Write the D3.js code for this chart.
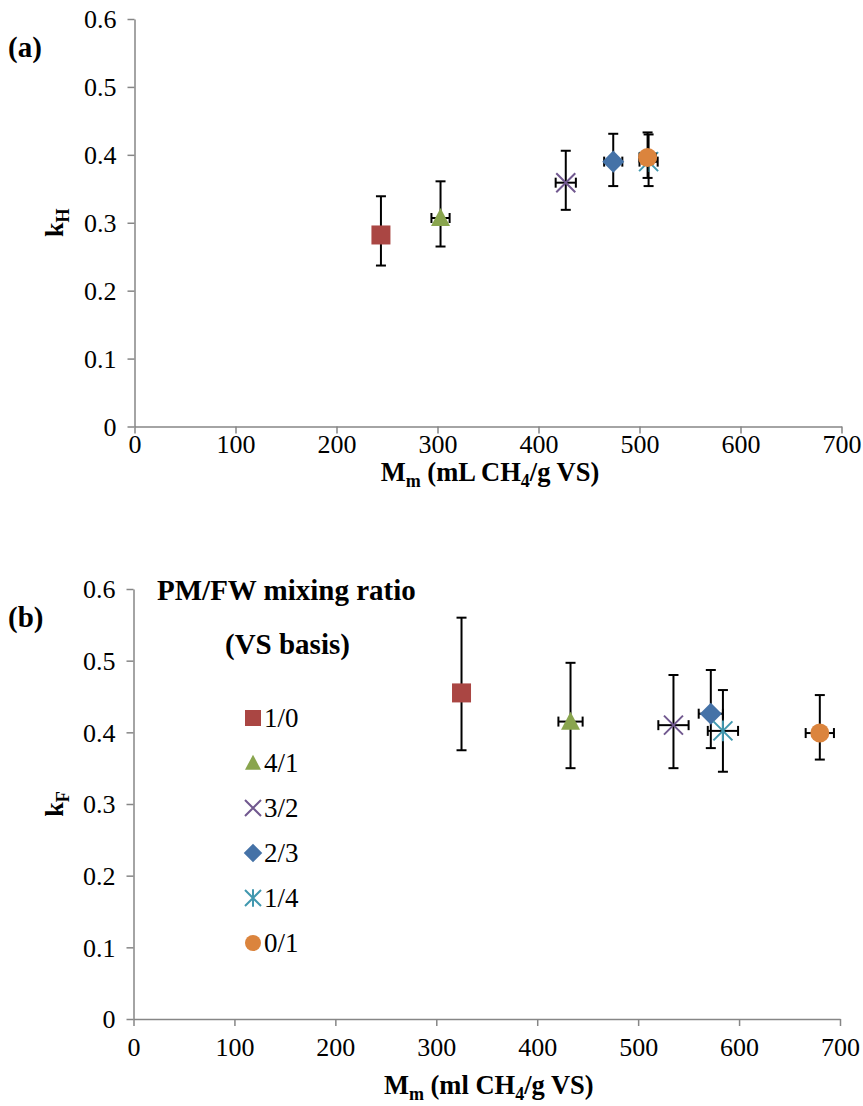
<!DOCTYPE html>
<html>
<head>
<meta charset="utf-8">
<script src="https://cdn.jsdelivr.net/npm/d3@7"></script>
<style>
  body { margin: 0; background: #fff; }
  svg text { font-family: "Liberation Serif", "Times New Roman", serif; fill: #000; }
</style>
</head>
<body>
<script>
// mixing ratios (series, in drawing order)
var ratios = ["1/0", "4/1", "3/2", "2/3", "1/4", "0/1"];
var symbols = ["square", "triangle", "cross", "diamond", "star", "circle"];
var colors = ["#AA4643", "#89A54E", "#71588F", "#4572A7", "#4198AF", "#DB843D"];

// panel (a): Mm vs kH
var mmA = [244, 303, 427, 474, 509, 508];
var mmErrA = [2, 9, 10, 9, 9, 8];
var kH = [0.282, 0.307, 0.359, 0.390, 0.390, 0.396];
var kHLow = [0.237, 0.265, 0.319, 0.354, 0.354, 0.366];
var kHHigh = [0.339, 0.361, 0.406, 0.431, 0.430, 0.433];

// panel (b): Mm vs kF
var mmB = [325, 433, 535, 572, 584, 680];
var mmErrB = [2, 12, 15, 12, 15, 14];
var kF = [0.455, 0.415, 0.410, 0.426, 0.402, 0.399];
var kFLow = [0.375, 0.350, 0.350, 0.378, 0.345, 0.362];
var kFHigh = [0.560, 0.497, 0.480, 0.487, 0.459, 0.452];

var xTicks = [0, 100, 200, 300, 400, 500, 600, 700];
var yTicks = [0, 0.1, 0.2, 0.3, 0.4, 0.5, 0.6];

var width = 863, height = 1106;
var axisColor = "#868686";

var svg = d3.select("body").append("svg")
    .attr("width", width)
    .attr("height", height);

svg.append("rect").attr("width", width).attr("height", height).attr("fill", "#fff");

//draw one marker centred on 0,0
function marker(g, sym, color, s){
    if (sym == "square"){
        g.append("rect").attr("x", -s/2).attr("y", -s/2).attr("width", s).attr("height", s).attr("fill", color);
    } else if (sym == "triangle"){
        var h = s * 0.95;
        g.append("path").attr("d", "M0," + (-h*0.55) + "L" + (s/2) + "," + (h*0.45) + "L" + (-s/2) + "," + (h*0.45) + "Z").attr("fill", color);
    } else if (sym == "diamond"){
        var r = s * 0.58;
        g.append("path").attr("d", "M0," + (-r) + "L" + r + ",0L0," + r + "L" + (-r) + ",0Z").attr("fill", color);
    } else if (sym == "circle"){
        g.append("circle").attr("r", s/2).attr("fill", color);
    } else if (sym == "cross"){
        var c = s/2;
        g.append("path").attr("d", "M" + (-c) + "," + (-c) + "L" + c + "," + c + "M" + c + "," + (-c) + "L" + (-c) + "," + c)
            .attr("stroke", color).attr("stroke-width", 2).attr("fill", "none");
    } else if (sym == "star"){
        var c = s/2;
        g.append("path").attr("d", "M" + (-c) + "," + (-c) + "L" + c + "," + c + "M" + c + "," + (-c) + "L" + (-c) + "," + c + "M0," + (-c*1.1) + "L0," + (c*1.1))
            .attr("stroke", color).attr("stroke-width", 2).attr("fill", "none");
    }
}

//draw one scatter panel
function panel(opts){
    var x = d3.scaleLinear().domain([0, 700]).range([opts.left, opts.right]);
    var y = d3.scaleLinear().domain([0, 0.6]).range([opts.bottom, opts.top]);

    var xAxis = svg.append("g")
        .attr("transform", "translate(0," + opts.bottom + ")")
        .call(d3.axisBottom(x).tickValues(xTicks).tickSize(7).tickSizeOuter(0).tickPadding(opts.xPad));
    var yAxis = svg.append("g")
        .attr("transform", "translate(" + opts.left + ",0)")
        .call(d3.axisLeft(y).tickValues(yTicks).tickSize(7).tickSizeOuter(0).tickPadding(11)
            .tickFormat(function(d){ return d == 0 ? "0" : d3.format(".1f")(d); }));

    [xAxis, yAxis].forEach(function(a){
        a.attr("font-family", null).attr("font-size", 26);
        a.select(".domain").attr("stroke", axisColor).attr("stroke-width", 1.5);
        a.selectAll(".tick line").attr("stroke", axisColor).attr("stroke-width", 1.5);
        a.selectAll(".tick text").attr("fill", "#000").style("font-family", "Liberation Serif");
    });
    xAxis.selectAll(".tick text").attr("dy", "0.71em");
    yAxis.selectAll(".tick text").attr("dy", "0.34em");

    var pts = svg.append("g");
    ratios.forEach(function(r, i){
        var cx = x(opts.mm[i]), cy = y(opts.k[i]);
        var eb = pts.append("g").attr("stroke", "#000").attr("stroke-width", 2).attr("fill", "none");
        var yl = y(opts.low[i]), yh = y(opts.high[i]);
        eb.append("line").attr("x1", cx).attr("x2", cx).attr("y1", yl).attr("y2", yh);
        eb.append("line").attr("x1", cx - 5).attr("x2", cx + 5).attr("y1", yl).attr("y2", yl);
        eb.append("line").attr("x1", cx - 5).attr("x2", cx + 5).attr("y1", yh).attr("y2", yh);
        var xl = x(opts.mm[i] - opts.mmErr[i]), xh = x(opts.mm[i] + opts.mmErr[i]);
        eb.append("line").attr("x1", xl).attr("x2", xh).attr("y1", cy).attr("y2", cy);
        eb.append("line").attr("x1", xl).attr("x2", xl).attr("y1", cy - 5).attr("y2", cy + 5);
        eb.append("line").attr("x1", xh).attr("x2", xh).attr("y1", cy - 5).attr("y2", cy + 5);
        var m = pts.append("g").attr("transform", "translate(" + cx + "," + cy + ")");
        marker(m, symbols[i], colors[i], 19);
    });

    //panel letter
    svg.append("text").attr("x", 8).attr("y", opts.letterY)
        .attr("font-size", 29).attr("font-weight", "bold").text(opts.letter);

    //x axis title with subscripts
    var xt = svg.append("text").attr("x", (opts.left + opts.right) / 2 + 2).attr("y", opts.xTitleY)
        .attr("text-anchor", "middle").attr("font-size", 26.5).attr("font-weight", "bold");
    xt.append("tspan").text("M");
    xt.append("tspan").attr("font-size", 18).attr("dy", 6).text("m");
    xt.append("tspan").attr("dy", -6).text(" (" + opts.unit + " CH");
    xt.append("tspan").attr("font-size", 18).attr("dy", 6).text("4");
    xt.append("tspan").attr("dy", -6).text("/g VS)");

    //y axis title
    var yt = svg.append("text")
        .attr("transform", "translate(63," + ((opts.top + opts.bottom) / 2) + ") rotate(-90)")
        .attr("text-anchor", "middle").attr("font-size", 26).attr("font-weight", "bold");
    yt.append("tspan").text("k");
    yt.append("tspan").attr("font-size", 18).attr("dy", 6).text(opts.sub);
}

panel({left: 134.5, right: 841.5, top: 19, bottom: 426.5, xPad: 1,
    mm: mmA, mmErr: mmErrA, k: kH, low: kHLow, high: kHHigh,
    letter: "(a)", letterY: 57, xTitleY: 481, unit: "mL", sub: "H"});

panel({left: 133.5, right: 840, top: 589, bottom: 1019, xPad: 12,
    mm: mmB, mmErr: mmErrB, k: kF, low: kFLow, high: kFHigh,
    letter: "(b)", letterY: 627, xTitleY: 1094, unit: "ml", sub: "F"});

//legend in panel (b)
var legend = svg.append("g");
legend.append("text").attr("x", 157).attr("y", 600)
    .attr("font-size", 29).attr("font-weight", "bold").text("PM/FW mixing ratio");
legend.append("text").attr("x", 225).attr("y", 654)
    .attr("font-size", 29).attr("font-weight", "bold").text("(VS basis)");

ratios.forEach(function(r, i){
    var ly = 718 + i * 45;
    var m = legend.append("g").attr("transform", "translate(253," + ly + ")");
    marker(m, symbols[i], colors[i], 16);
    legend.append("text").attr("x", 264).attr("y", ly + 9).attr("font-size", 27).text(r);
});
</script>
</body>
</html>
